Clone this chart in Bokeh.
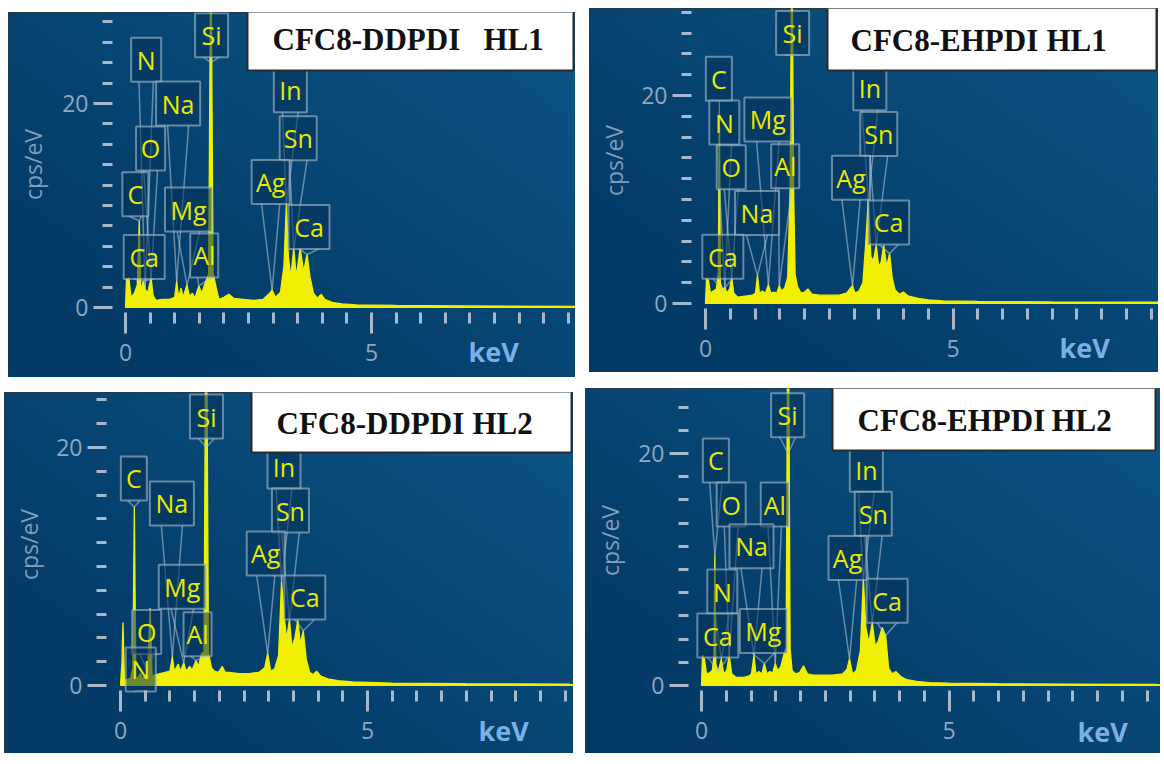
import numpy as np
from bokeh.plotting import figure
from bokeh.models import FixedTicker, Spacer, Range1d
from bokeh.layouts import row, column
from bokeh.embed import file_html
from bokeh.resources import INLINE
from bokeh.core.properties import value

# ---------------- data ----------------
titles = [("CFC8-DDPDI", "HL1"), ("CFC8-EHPDI", "HL1"), ("CFC8-DDPDI", "HL2"), ("CFC8-EHPDI", "HL2")]

# Top-left: CFC8-DDPDI HL1
tl_kev = [0.00, 0.02, 0.07, 0.11, 0.18, 0.24, 0.28, 0.31, 0.36, 0.40,
          0.45, 0.52, 0.56, 0.62, 0.75, 0.90, 1.00, 1.04, 1.08, 1.13,
          1.17, 1.25, 1.30, 1.36, 1.41, 1.49, 1.55, 1.62, 1.69, 1.725,
          1.745, 1.78, 1.84, 1.90, 2.00, 2.10, 2.20, 2.40, 2.60, 2.80,
          2.93, 2.98, 3.05, 3.15, 3.22, 3.27, 3.31, 3.36, 3.42, 3.47,
          3.55, 3.62, 3.69, 3.75, 3.82, 3.90, 3.98, 4.05, 4.20, 4.40,
          4.70, 5.50, 7.00, 9.20]
tl_cps = [0.0, 2.8, 2.9, 1.0, 1.4, 2.2, 8.5, 1.5, 2.6, 1.8,
          1.4, 2.9, 1.2, 0.7, 0.8, 0.8, 1.0, 2.6, 1.0, 1.9,
          1.0, 2.2, 1.1, 1.4, 0.9, 2.1, 1.4, 2.4, 3.3, 30.0,
          30.0, 3.4, 2.0, 0.8, 1.0, 1.3, 0.9, 0.8, 0.7, 0.8,
          1.4, 1.7, 1.0, 1.5, 4.0, 10.2, 5.0, 3.0, 5.8, 3.0,
          5.8, 3.5, 5.2, 3.0, 1.4, 0.9, 1.3, 0.8, 0.5, 0.35,
          0.25, 0.2, 0.15, 0.1]
tl_labels = ["N", "O", "C", "Ca", "Na", "Mg", "Al", "Si", "In", "Sn", "Ag", "Ca"]
tl_lab_kev = [0.42, 0.51, 0.20, 0.38, 1.07, 1.28, 1.60, 1.75, 3.35, 3.51, 2.95, 3.73]
tl_lab_cps = [24.3, 15.6, 11.1, 4.95, 20.0, 9.6, 5.1, 26.7, 21.3, 16.6, 12.3, 7.9]
tl_tip_kev = [0.40, 0.52, 0.28, 0.36, 1.04, 1.25, 1.49, 1.735, 3.27, 3.42, 2.98, 3.69]
tl_tip_cps = [1.8, 2.9, 8.5, 2.6, 2.6, 2.2, 2.1, 24.0, 10.2, 5.8, 1.7, 5.2]

# Top-right: CFC8-EHPDI HL1
tr_kev = [0.00, 0.02, 0.06, 0.10, 0.16, 0.22, 0.26, 0.28, 0.30, 0.35,
          0.39, 0.43, 0.49, 0.53, 0.57, 0.65, 0.80, 0.95, 1.01, 1.05,
          1.09, 1.15, 1.21, 1.27, 1.32, 1.38, 1.44, 1.49, 1.54, 1.60,
          1.66, 1.71, 1.735, 1.755, 1.78, 1.81, 1.86, 1.93, 2.00, 2.07,
          2.15, 2.30, 2.50, 2.70, 2.85, 2.93, 2.97, 3.02, 3.10, 3.18,
          3.24, 3.29, 3.34, 3.39, 3.45, 3.50, 3.55, 3.60, 3.66, 3.72,
          3.77, 3.83, 3.92, 4.00, 4.10, 4.30, 4.50, 4.80, 5.50, 7.00,
          9.20]
tr_cps = [0.0, 2.4, 2.2, 1.0, 1.2, 1.4, 3.0, 19.5, 2.0, 1.3,
          1.6, 1.0, 1.4, 2.5, 1.0, 0.6, 0.7, 0.8, 1.0, 2.7,
          1.0, 1.2, 1.0, 1.8, 1.0, 1.1, 1.0, 1.7, 1.2, 1.5,
          2.5, 11.0, 30.0, 30.0, 11.0, 2.8, 1.6, 1.0, 1.1, 1.4,
          0.9, 0.8, 0.8, 0.8, 1.0, 1.5, 1.7, 1.0, 1.2, 2.0,
          6.0, 10.1, 4.5, 4.1, 5.6, 3.5, 4.0, 5.6, 3.6, 4.8,
          2.5, 1.3, 0.9, 1.1, 0.7, 0.5, 0.35, 0.25, 0.2, 0.15,
          0.12]
tr_labels = ["C", "N", "O", "Mg", "Al", "Na", "Ca", "Si", "In", "Sn", "Ag", "Ca"]
tr_lab_kev = [0.27, 0.38, 0.52, 1.26, 1.61, 1.04, 0.35, 1.76, 3.32, 3.50, 2.94, 3.70]
tr_lab_cps = [21.6, 17.4, 13.1, 17.7, 13.2, 8.7, 4.5, 26.0, 20.7, 16.3, 12.1, 7.8]
tr_tip_kev = [0.28, 0.39, 0.53, 1.27, 1.49, 1.05, 0.35, 1.745, 3.29, 3.45, 2.97, 3.72]
tr_tip_cps = [19.5, 1.6, 2.5, 1.8, 1.7, 2.7, 1.3, 24.0, 10.1, 5.6, 1.7, 4.8]

# Bottom-left: CFC8-DDPDI HL2
bl_kev = [0.00, 0.03, 0.05, 0.08, 0.13, 0.20, 0.25, 0.28, 0.31, 0.36,
          0.40, 0.44, 0.50, 0.55, 0.60, 0.64, 0.70, 0.80, 0.90, 1.00,
          1.05, 1.09, 1.17, 1.21, 1.28, 1.33, 1.40, 1.45, 1.53, 1.58,
          1.64, 1.69, 1.725, 1.745, 1.78, 1.84, 1.90, 1.98, 2.06, 2.12,
          2.20, 2.40, 2.60, 2.80, 2.92, 2.98, 3.04, 3.12, 3.20, 3.26,
          3.31, 3.36, 3.42, 3.47, 3.53, 3.59, 3.64, 3.70, 3.76, 3.83,
          3.90, 3.97, 4.05, 4.20, 4.40, 4.70, 5.50, 7.00, 9.10]
bl_cps = [0.0, 2.0, 5.3, 0.4, 0.5, 0.6, 1.5, 15.0, 0.6, 0.7,
          1.0, 0.6, 0.8, 1.2, 6.5, 0.8, 0.9, 1.0, 1.1, 1.2,
          2.4, 1.2, 1.8, 1.2, 1.9, 1.2, 1.6, 1.3, 2.1, 1.6,
          2.7, 2.8, 30.0, 30.0, 2.8, 1.5, 1.2, 1.1, 1.6, 1.1,
          1.1, 1.0, 1.0, 1.1, 1.5, 2.7, 1.2, 1.4, 2.5, 8.7,
          6.0, 3.9, 5.5, 3.2, 4.0, 5.5, 3.5, 4.6, 2.2, 1.1,
          0.9, 1.2, 0.8, 0.55, 0.4, 0.3, 0.2, 0.15, 0.12]
bl_labels = ["C", "Na", "Mg", "O", "Al", "N", "Si", "In", "Sn", "Ag", "Ca"]
bl_lab_kev = [0.27, 1.04, 1.25, 0.53, 1.56, 0.41, 1.74, 3.31, 3.44, 2.94, 3.73]
bl_lab_cps = [17.4, 15.3, 8.3, 4.5, 4.3, 1.35, 22.6, 18.4, 14.7, 11.1, 7.4]
bl_tip_kev = [0.28, 1.05, 1.28, 0.55, 1.53, 0.41, 1.735, 3.26, 3.42, 2.98, 3.70]
bl_tip_cps = [15.0, 2.4, 1.9, 1.2, 2.1, -0.4, 20.0, 8.7, 5.5, 2.7, 4.6]

# Bottom-right: CFC8-EHPDI HL2
br_kev = [0.00, 0.02, 0.06, 0.10, 0.16, 0.22, 0.25, 0.27, 0.29, 0.34,
          0.40, 0.45, 0.51, 0.56, 0.61, 0.70, 0.85, 0.95, 1.01, 1.06,
          1.10, 1.16, 1.22, 1.27, 1.32, 1.38, 1.44, 1.49, 1.54, 1.60,
          1.66, 1.71, 1.74, 1.76, 1.79, 1.83, 1.90, 1.98, 2.06, 2.14,
          2.25, 2.45, 2.65, 2.85, 2.94, 2.99, 3.05, 3.13, 3.21, 3.27,
          3.32, 3.38, 3.45, 3.51, 3.57, 3.65, 3.72, 3.78, 3.85, 3.93,
          4.02, 4.15, 4.35, 4.60, 5.00, 6.00, 7.50, 9.20]
br_cps = [0.0, 2.6, 2.3, 1.0, 1.1, 1.3, 2.5, 11.2, 1.8, 1.2,
          2.3, 1.0, 1.3, 2.6, 1.0, 0.7, 0.7, 0.8, 1.0, 2.6,
          1.0, 1.2, 1.0, 1.9, 1.0, 1.2, 1.1, 1.9, 1.3, 1.6,
          2.6, 3.3, 30.0, 30.0, 3.2, 1.3, 1.0, 1.1, 1.7, 1.0,
          0.9, 0.9, 0.9, 1.0, 1.4, 2.3, 1.0, 1.3, 3.0, 9.2,
          5.0, 3.7, 5.4, 3.4, 3.8, 5.0, 4.3, 1.5, 1.0, 1.2,
          0.8, 0.5, 0.35, 0.25, 0.2, 0.15, 0.12, 0.1]
br_labels = ["C", "O", "Al", "Na", "N", "Ca", "Mg", "Si", "In", "Sn", "Ag", "Ca"]
br_lab_kev = [0.29, 0.60, 1.48, 1.01, 0.42, 0.33, 1.25, 1.74, 3.33, 3.47, 2.95, 3.75]
br_lab_cps = [19.4, 15.6, 15.6, 12.0, 8.1, 4.3, 4.7, 23.3, 18.6, 14.8, 11.0, 7.3]
br_tip_kev = [0.27, 0.56, 1.49, 1.06, 0.40, 0.34, 1.27, 1.75, 3.27, 3.45, 2.99, 3.72]
br_tip_cps = [11.2, 2.6, 1.9, 2.6, 2.3, 1.2, 1.9, 20.0, 9.2, 5.4, 2.3, 4.3]

x_major = [0, 5]
x_minor = [0.5, 1, 1.5, 2, 2.5, 3, 3.5, 4, 4.5, 5.5, 6, 6.5, 7, 7.5, 8, 8.5, 9]
y_major = [0, 20]
y_minor_top = [2, 4, 6, 8, 10, 12, 14, 16, 18, 22, 24, 26, 28]
y_minor_bottom = [2, 4, 6, 8, 10, 12, 14, 16, 18, 22, 24]
x_title = "keV"
y_title = "cps/eV"

# ---------------- styling / layout ----------------
DARK = np.array([4, 58, 102])
BRIGHT = np.array([12, 86, 134])
YELLOW = "#f0f000"
BOX_W = {"C": 26, "N": 30, "O": 29, "Si": 33, "In": 33, "Al": 28, "Ca": 41,
         "Na": 44, "Ag": 38, "Sn": 37, "Mg": 47}
BOX_H = 44

# geometry (pixels, relative to each panel's top-left); text y values are visual centres
geoms = [
    dict(w=567, h=365, fl=104, fb=300, x0=117, y0=295, kx=49.2, ky=10.2,
         tbox=(239, 565, -7, 58), t1=(264, 27), t2=(475, 27), kev=(460, 339)),
    dict(w=569, h=364, fl=102, fb=300, x0=116, y0=295, kx=49.5, ky=10.4,
         tbox=(238, 567, -1, 62), t1=(261, 32), t2=(457, 32), kev=(470, 339)),
    dict(w=569, h=361, fl=102, fb=298, x0=116, y0=293, kx=49.4, ky=11.9,
         tbox=(247, 567, -4, 60), t1=(272, 31), t2=(468, 31), kev=(474, 338)),
    dict(w=575, h=365, fl=103, fb=302, x0=116, y0=297, kx=49.5, ky=11.6,
         tbox=(247, 570, -1, 62), t1=(272, 32), t2=(466, 32), kev=(492, 343)),
]
YLAB = (24, 152)


def gradient_image(nx=160, ny=100):
    u = np.linspace(0, 1, nx)[None, :]
    v = np.linspace(0, 1, ny)[:, None]
    f = np.clip(0.6 * u + 0.55 * v - 0.1, 0, 1) ** 1.3
    rgb = DARK[None, None, :] + (BRIGHT - DARK)[None, None, :] * f[..., None]
    img = np.empty((ny, nx), dtype=np.uint32)
    view = img.view(dtype=np.uint8).reshape((ny, nx, 4))
    view[..., 0] = rgb[..., 0].astype(np.uint8)
    view[..., 1] = rgb[..., 1].astype(np.uint8)
    view[..., 2] = rgb[..., 2].astype(np.uint8)
    view[..., 3] = 255
    return img


def build(g, kev, cps, labs, lkev, lcps, tkev, tcps, title, yminor):
    W, H = g["w"], g["h"]
    x0, y0, kx, ky = g["x0"], g["y0"], g["kx"], g["ky"]

    def X(px):
        return (px - x0) / kx

    def Y(py):
        return (y0 - py) / ky

    xs, xe = X(0), X(W)
    ys, ye = Y(H), Y(0)
    p = figure(width=W, height=H, x_range=Range1d(xs, xe), y_range=Range1d(ys, ye),
               output_backend="svg", toolbar_location=None,
               min_border_left=0, min_border_right=0, min_border_top=0,
               min_border_bottom=0,
               border_fill_color="#043a66", background_fill_color="#043a66",
               outline_line_color="#1c1c1c", outline_line_width=2, outline_line_alpha=0.8)
    p.grid.visible = False

    # background gradient of the whole panel
    p.image_rgba(image=[gradient_image()], x=xs, y=ys, dw=xe - xs, dh=ye - ys)

    # spectrum
    p.varea(x=kev, y1=[0] * len(kev), y2=cps, fill_color=YELLOW)
    p.line(kev, cps, line_color=YELLOW, line_width=1.3)
    p.line([0, X(W)], [0.05, 0.05], line_color=YELLOW, line_width=2)

    # element label pointers
    pxs, pys = [], []
    for lab, cx, cy, tx, ty in zip(labs, lkev, lcps, tkev, tcps):
        dx = BOX_W[lab] * 0.24 / kx
        by = cy - (BOX_H / 2) / ky
        pxs += [[cx - dx, tx], [cx + dx, tx]]
        pys += [[by, ty], [by, ty]]
    p.multi_line(pxs, pys, line_color="#b4c6d4", line_alpha=0.55, line_width=1.5)

    # element label boxes and texts
    p.rect(x=lkev, y=lcps, width=[BOX_W[l] for l in labs], height=BOX_H,
           width_units="screen", height_units="screen",
           fill_color="#03335a", fill_alpha=0.55,
           line_color="#a9bccb", line_alpha=0.6, line_width=2)
    p.text(x=lkev, y=lcps, text=labs, text_align="center", text_baseline="middle",
           text_color="#e8e800", text_font_size="25px", text_font=value("Open Sans"))

    # title box
    l, r, t, b = g["tbox"]
    p.quad(left=[X(l)], right=[X(r)], top=[Y(t)], bottom=[Y(b)],
           fill_color="white", line_color="#2a2a2a", line_width=2)
    for (tx, ty), txt in zip((g["t1"], g["t2"]), title):
        p.text(x=[X(tx)], y=[Y(ty)], text=[txt],
               text_baseline="middle", text_color="#111111", text_font_size="31px",
               text_font=value("Liberation Serif"), text_font_style="bold")

    # axis titles
    p.text(x=[X(g["kev"][0])], y=[Y(g["kev"][1])], text=[x_title],
           text_baseline="middle", text_color="#7eaee6",
           text_font=value("Open Sans"), text_font_style="bold", text_font_size="27px")
    p.text(x=[X(YLAB[0])], y=[Y(YLAB[1])], text=[y_title], angle=np.pi / 2,
           text_align="center", text_baseline="middle", text_color="#7f9cb8",
           text_font=value("Open Sans"), text_font_size="23px")

    # axes, placed inside the panel
    for ax in (p.xaxis[0], p.yaxis[0]):
        ax.axis_line_color = None
        ax.major_tick_in = 0
        ax.minor_tick_in = 0
        ax.major_tick_line_color = "#a6b8c9"
        ax.minor_tick_line_color = "#a6b8c9"
        ax.major_tick_line_width = 3
        ax.minor_tick_line_width = 3
        ax.major_label_text_color = "#8ea6be"
        ax.major_label_text_font = "Open Sans"
        ax.major_label_text_font_size = "23px"
    p.xaxis.fixed_location = Y(g["fb"])
    p.yaxis.fixed_location = X(g["fl"])
    p.xaxis.ticker = FixedTicker(ticks=x_major, minor_ticks=x_minor)
    p.xaxis.major_tick_out = 21
    p.xaxis.minor_tick_out = 11
    p.xaxis.major_label_standoff = 10
    p.yaxis.ticker = FixedTicker(ticks=y_major, minor_ticks=yminor)
    p.yaxis.major_tick_out = 19
    p.yaxis.minor_tick_out = 10
    p.yaxis.major_label_standoff = 5
    return p


p_tl = build(geoms[0], tl_kev, tl_cps, tl_labels, tl_lab_kev, tl_lab_cps, tl_tip_kev, tl_tip_cps, titles[0], y_minor_top)
p_tr = build(geoms[1], tr_kev, tr_cps, tr_labels, tr_lab_kev, tr_lab_cps, tr_tip_kev, tr_tip_cps, titles[1], y_minor_top)
p_bl = build(geoms[2], bl_kev, bl_cps, bl_labels, bl_lab_kev, bl_lab_cps, bl_tip_kev, bl_tip_cps, titles[2], y_minor_bottom)
p_br = build(geoms[3], br_kev, br_cps, br_labels, br_lab_kev, br_lab_cps, br_tip_kev, br_tip_cps, titles[3], y_minor_bottom)

top = row(Spacer(width=8), column(Spacer(height=4), p_tl), Spacer(width=14), p_tr)
bottom = row(Spacer(width=4), column(Spacer(height=4), p_bl), Spacer(width=12), p_br)
layout = column(Spacer(height=8), top, Spacer(height=11), bottom)

open("out.html", "w").write(file_html(layout, INLINE))
